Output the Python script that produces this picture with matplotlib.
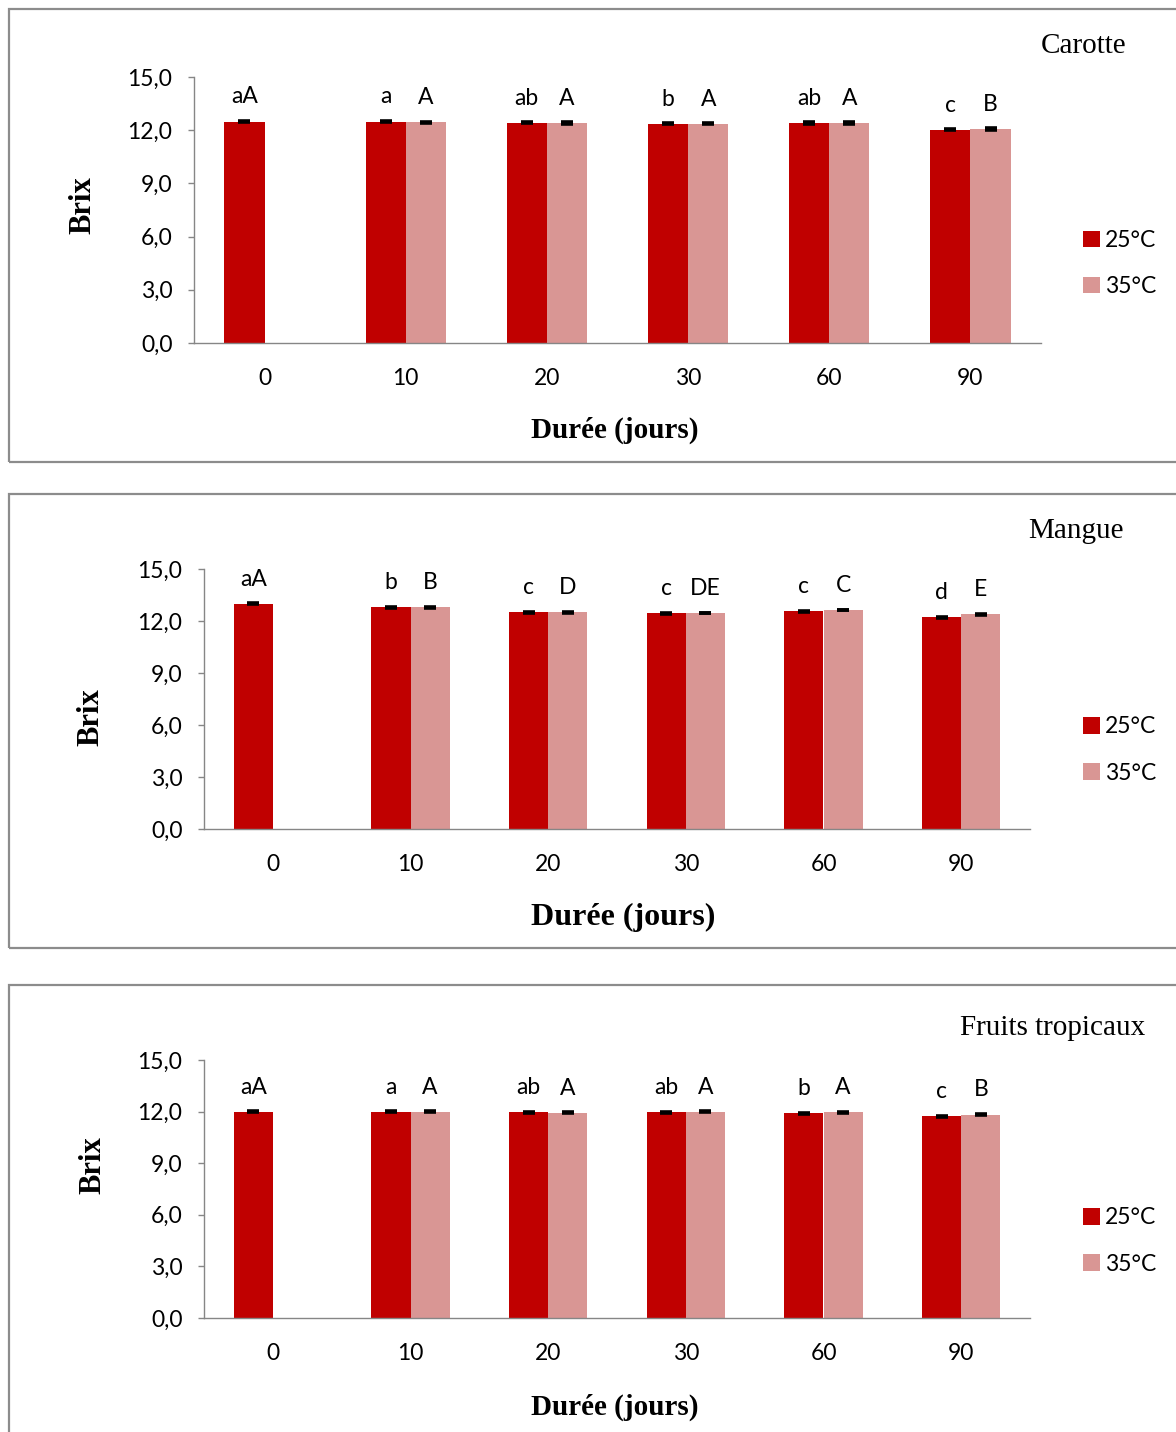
import numpy as np
import matplotlib
matplotlib.use("Agg")
import matplotlib.pyplot as plt
from matplotlib.patches import Rectangle, Patch
from matplotlib.ticker import FixedLocator, FuncFormatter

# ---- data ----
days = ["0", "10", "20", "30", "60", "90"]
series = ["25°C", "35°C"]

carotte_25 = [12.49, 12.49, 12.43, 12.36, 12.39, 12.02]
carotte_35 = [np.nan, 12.45, 12.43, 12.36, 12.43, 12.08]
carotte_err25 = [0.01, 0.01, 0.03, 0.02, 0.05, 0.02]
carotte_err35 = [np.nan, 0.02, 0.06, 0.02, 0.06, 0.05]
carotte_lab25 = ["aA", "a", "ab", "b", "ab", "c"]
carotte_lab35 = ["", "A", "A", "A", "A", "B"]

mangue_25 = [13.00, 12.79, 12.50, 12.44, 12.56, 12.21]
mangue_35 = [np.nan, 12.79, 12.50, 12.46, 12.65, 12.40]
mangue_err25 = [0.03, 0.03, 0.04, 0.02, 0.02, 0.03]
mangue_err35 = [np.nan, 0.03, 0.04, 0.02, 0.01, 0.03]
mangue_lab25 = ["aA", "b", "c", "c", "c", "d"]
mangue_lab35 = ["", "B", "D", "DE", "C", "E"]

fruits_25 = [12.00, 12.00, 11.96, 11.96, 11.90, 11.73]
fruits_35 = [np.nan, 12.00, 11.92, 12.00, 11.96, 11.83]
fruits_err25 = [0.02, 0.02, 0.03, 0.03, 0.02, 0.03]
fruits_err35 = [np.nan, 0.02, 0.03, 0.01, 0.03, 0.03]
fruits_lab25 = ["aA", "a", "ab", "ab", "b", "c"]
fruits_lab35 = ["", "A", "A", "A", "A", "B"]

yticks = [0, 3, 6, 9, 12, 15]

# ---- style ----
C25 = "#C00000"
C35 = "#D99694"
AXIS = "#868686"
FRAME = "#8C8C8C"
SANS = ["Lato", "DejaVu Sans"]
SERIF = ["Liberation Serif", "DejaVu Serif"]
FS = 16.5

W, H = 1176, 1432
fig = plt.figure(figsize=(W / 100, H / 100), dpi=100)


def fx(px):
    return px / W


def fy(py):
    return 1 - py / H


panels = [
    dict(title="Carotte", v25=carotte_25, v35=carotte_35, e25=carotte_err25, e35=carotte_err35,
         l25=carotte_lab25, l35=carotte_lab35,
         frame=(9, 9, 1200, 462), ax=(194, 77, 1041, 343), title_xy=(1084, 46),
         leg=(1083, 263.5), xlab=(615, 430), xlab_size=21, ylab=(83, 205)),
    dict(title="Mangue", v25=mangue_25, v35=mangue_35, e25=mangue_err25, e35=mangue_err35,
         l25=mangue_lab25, l35=mangue_lab35,
         frame=(9, 494, 1200, 948), ax=(204, 569, 1030, 829), title_xy=(1076, 531),
         leg=(1083, 750), xlab=(623, 917), xlab_size=23, ylab=(91, 717)),
    dict(title="Fruits tropicaux", v25=fruits_25, v35=fruits_35, e25=fruits_err25, e35=fruits_err35,
         l25=fruits_lab25, l35=fruits_lab35,
         frame=(9, 985, 1200, 1460), ax=(204, 1060, 1030, 1318), title_xy=(1053, 1028),
         leg=(1083, 1241), xlab=(615, 1407), xlab_size=21, ylab=(93, 1165)),
]

bw = 0.285
x = np.arange(len(days))

for p in panels:
    # outer frame around each chart
    x0, y0, x1, y1 = p["frame"]
    fig.patches.append(Rectangle((fx(x0), fy(y1)), fx(x1 - x0), (y1 - y0) / H,
                                 transform=fig.transFigure, fill=False,
                                 edgecolor=FRAME, linewidth=1.6, zorder=0))

    l, t, r, b = p["ax"]
    ax = fig.add_axes([fx(l), fy(b), fx(r - l), (b - t) / H])

    ax.bar(x - bw / 2, p["v25"], bw, color=C25, label=series[0], zorder=2)
    ax.bar(x + bw / 2, p["v35"], bw, color=C35, label=series[1], zorder=2)
    ekw = dict(fmt="none", ecolor="black", elinewidth=1.6, capsize=4, capthick=2.6, zorder=3)
    ax.errorbar(x - bw / 2, p["v25"], yerr=p["e25"], **ekw)
    ax.errorbar(x + bw / 2, p["v35"], yerr=p["e35"], **ekw)

    for xi, v, s in zip(x - bw / 2, p["v25"], p["l25"]):
        ax.annotate(s, (xi, v), xytext=(0, 13), textcoords="offset points",
                    ha="center", va="baseline", fontsize=FS, family=SANS)
    for xi, v, s in zip(x + bw / 2, p["v35"], p["l35"]):
        if s and not np.isnan(v):
            ax.annotate(s, (xi, v), xytext=(0, 13), textcoords="offset points",
                        ha="center", va="baseline", fontsize=FS, family=SANS)

    ax.set_xlim(-0.5, len(days) - 0.5)
    ax.set_ylim(0, 15)
    ax.set_xticks(x)
    ax.set_xticklabels(days, fontsize=FS, family=SANS)
    ax.yaxis.set_major_locator(FixedLocator(yticks))
    ax.yaxis.set_major_formatter(FuncFormatter(lambda v, pos: f"{v:.1f}".replace(".", ",")))
    for lab in ax.get_yticklabels():
        lab.set_family(SANS)
        lab.set_fontsize(FS)
    ax.tick_params(axis="x", length=0, pad=18)
    ax.tick_params(axis="y", length=4.5, width=1.0, color=AXIS, pad=11)
    for s in ("top", "right"):
        ax.spines[s].set_visible(False)
    for s in ("left", "bottom"):
        ax.spines[s].set_color(AXIS)
        ax.spines[s].set_linewidth(1.0)

    ax.set_xlabel("Durée (jours)", family=SERIF, fontweight="bold", fontsize=p["xlab_size"])
    ax.xaxis.set_label_coords((p["xlab"][0] - l) / (r - l), (b - p["xlab"][1]) / (b - t))
    ax.xaxis.label.set_verticalalignment("center")
    ax.set_ylabel("Brix", family=SERIF, fontweight="bold", fontsize=22)
    ax.yaxis.set_label_coords((p["ylab"][0] - l) / (r - l), (b - p["ylab"][1]) / (b - t))
    ax.yaxis.label.set_verticalalignment("center")

    fig.text(fx(p["title_xy"][0]), fy(p["title_xy"][1]), p["title"], family=SERIF,
             fontsize=21, ha="center", va="center")

    handles = [Patch(facecolor=C25, edgecolor="none"), Patch(facecolor=C35, edgecolor="none")]
    fig.legend(handles, series, loc="center left",
               bbox_to_anchor=(fx(p["leg"][0]), fy(p["leg"][1])),
               bbox_transform=fig.transFigure, frameon=False, borderpad=0,
               borderaxespad=0, handlelength=0.72, handleheight=0.72,
               handletextpad=0.25, labelspacing=1.1,
               prop=dict(family=SANS, size=FS))

fig.savefig("out.png", dpi=100, facecolor="white")
